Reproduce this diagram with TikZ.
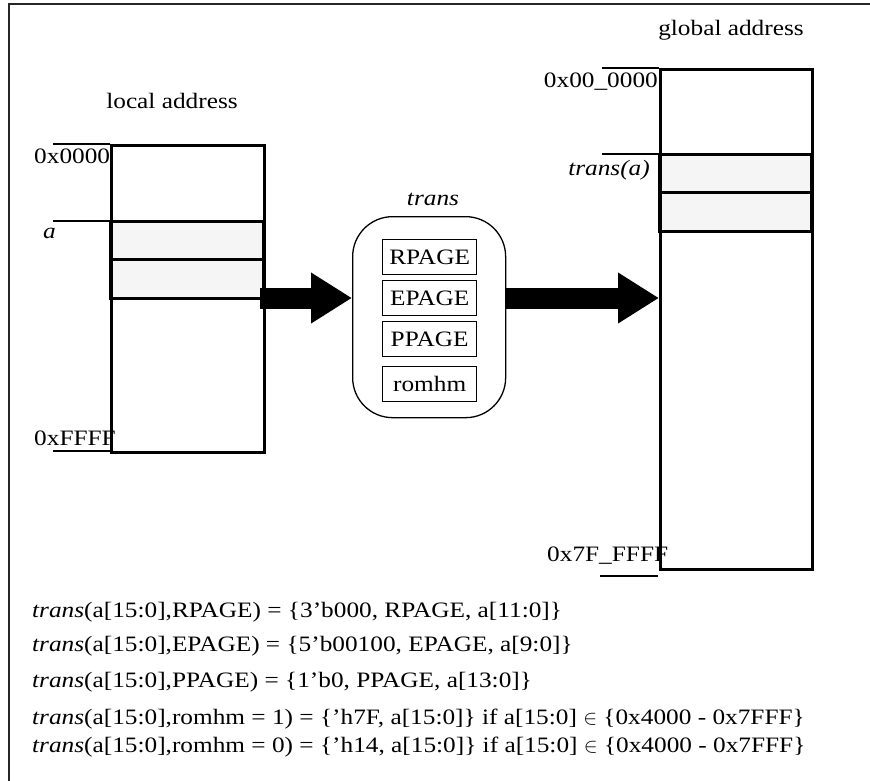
\documentclass[tikz,border=0pt]{standalone}
\usepackage{fontspec}
\setmainfont[FakeStretch=1.15]{Liberation Serif}
\usetikzlibrary{arrows.meta}
\tikzset{
  lbl/.style={font=\fontsize{22}{24}\selectfont, inner sep=0pt},
  frm/.style={font=\fontsize{22}{24}\selectfont, inner sep=0pt, anchor=base west},
  memedge/.style={line width=3pt},
  band/.style={draw, line width=3pt, fill=black!4},
  tick/.style={line width=1.3pt},
  pagebox/.style={draw, line width=1.3pt, minimum width=94pt, minimum height=35pt, inner sep=0pt, font=\fontsize{22}{24}\selectfont},
  bigarrow/.style={line width=21pt, -{Triangle[length=41pt,width=48pt]}},
}
\begin{document}
\begin{tikzpicture}[x=1pt,y=-1pt]
\useasboundingbox (0,0) rectangle (870,780);
% frame (top and left edges visible)
\draw[line width=1.6pt, black!85] (9,800) -- (9,4) -- (880,4);

% local address memory
\node[lbl, anchor=base] (loctitle) at (172,108) {local address};
\path[band] (110,221) rectangle (263,259);
\path[band] (110,259) rectangle (263,298);
\node[draw, memedge, minimum width=153pt, minimum height=307pt, inner sep=0pt, anchor=north west] (local) at (110,144) {};
\draw[tick] (53,144) -- (110,144);
\draw[tick] (53,221) -- (110,221);
\draw[tick] (53,451) -- (110,451);
\node[lbl, anchor=base west] (l0) at (34,163) {0x0000};
\node[lbl, anchor=base west] (la) at (43,238) {\itshape a};
\node[lbl, anchor=base west] (lf) at (34,445) {0xFFFF};

% translation block
\node[lbl, anchor=base] (transtitle) at (433,205) {\itshape trans};
\node[draw, line width=1.3pt, rounded corners=40pt, minimum width=153pt, minimum height=201pt, anchor=north west] (trans) at (352,216) {};
\node[pagebox, anchor=north west] (rp) at (382,239) {RPAGE};
\node[pagebox, anchor=north west] (ep) at (382,280) {EPAGE};
\node[pagebox, anchor=north west] (pp) at (382,321) {PPAGE};
\node[pagebox, anchor=north west] (rh) at (382,366) {romhm};

% global address memory
\node[lbl, anchor=base] (globtitle) at (731,35) {global address};
\path[band] (659,154) rectangle (811,192);
\path[band] (659,192) rectangle (811,231);
\node[draw, memedge, minimum width=152pt, minimum height=500pt, inner sep=0pt, anchor=north west] (global) at (659,68) {};
\draw[tick] (602,68) -- (659,68);
\draw[tick] (602,154) -- (659,154);
\draw[tick] (600,576) -- (658,576);
\node[lbl, anchor=base east] (g0) at (658,87) {0x00\_0000};
\node[lbl, anchor=base east] (gt) at (650,175) {\itshape trans(a)};
\node[lbl, anchor=base west] (gf) at (547,561) {0x7F\_FFFF};

% big arrows
\coordinate (a1s) at (260,298);
\coordinate (a2s) at (505,298);
\draw[bigarrow] (a1s) -- (trans.west |- a1s);
\draw[bigarrow] (a2s) -- (global.west |- a2s);

% formulas
\node[frm] (f1) at (32,617) {\textit{trans}(a[15:0],RPAGE) = \{3’b000, RPAGE, a[11:0]\}};
\node[frm] (f2) at (32,651) {\textit{trans}(a[15:0],EPAGE) = \{5’b00100, EPAGE, a[9:0]\}};
\node[frm] (f3) at (32,687) {\textit{trans}(a[15:0],PPAGE) = \{1’b0, PPAGE, a[13:0]\}};
\node[frm] (f4) at (32,724) {\textit{trans}(a[15:0],romhm = 1) = \{’h7F, a[15:0]\} if a[15:0] $\in$ \{0x4000 - 0x7FFF\}};
\node[frm] (f5) at (32,752) {\textit{trans}(a[15:0],romhm = 0) = \{’h14, a[15:0]\} if a[15:0] $\in$ \{0x4000 - 0x7FFF\}};
\end{tikzpicture}
\end{document}
